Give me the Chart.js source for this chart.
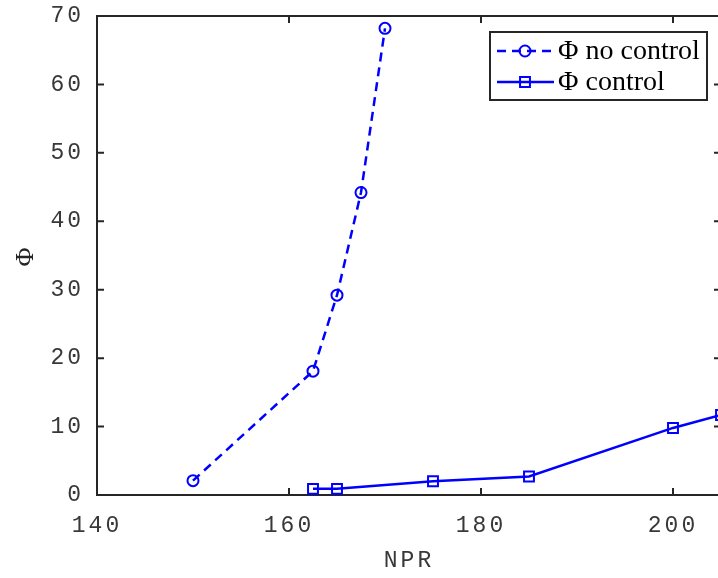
<!DOCTYPE html>
<html>
<head>
<meta charset="utf-8">
<script src="https://cdn.jsdelivr.net/npm/chart.js@4/dist/chart.umd.min.js"></script>
<style>
  html, body { margin: 0; padding: 0; overflow: hidden; background: #fff; }
  #wrap { width: 740px; height: 578px; }
</style>
</head>
<body>
<div id="wrap"><canvas id="chart" width="740" height="578"></canvas></div>
<script>
// values
const nprNoControl = [150, 162.5, 165, 167.5, 170];
const phiNoControl = [2.1, 18.1, 29.2, 44.2, 68.2];
const nprControl = [162.5, 165, 175, 185, 200, 205];
const phiControl = [0.9, 0.9, 2.0, 2.7, 9.8, 11.7];
const xTicks = [140, 160, 180, 200];
const yTicks = [0, 10, 20, 30, 40, 50, 60, 70];

const axisColor = "#262626";
const labelColor = "#383838";
const tickFont = { family: "Liberation Mono", size: 23 };
const plotRight = 721; // right axis sits just past the 718px window

function toPoints(xs, ys) {
  return xs.map((x, i) => ({ x: x, y: ys[i] }));
}

function noPadding(s) {
  s.paddingLeft = 0;
  s.paddingRight = 0;
  s.paddingTop = 0;
  s.paddingBottom = 0;
}

// MATLAB style box with inward ticks
const boxPlugin = {
  id: "box",
  beforeDraw(chart) {
    // wider letter pitch for the axis texts
    chart.ctx.letterSpacing = "3px";
  },
  beforeDatasetsDraw(chart) {
    const { ctx, chartArea: a, scales } = chart;
    ctx.letterSpacing = "0px";
    ctx.save();
    ctx.strokeStyle = axisColor;
    ctx.lineWidth = 2;
    ctx.strokeRect(a.left, a.top, a.right - a.left, a.bottom - a.top);
    const len = 7;
    ctx.beginPath();
    xTicks.forEach((v) => {
      const px = scales.x.getPixelForValue(v);
      ctx.moveTo(px, a.bottom);
      ctx.lineTo(px, a.bottom - len);
      ctx.moveTo(px, a.top);
      ctx.lineTo(px, a.top + len);
    });
    yTicks.forEach((v) => {
      const py = scales.y.getPixelForValue(v);
      ctx.moveTo(a.left, py);
      ctx.lineTo(a.left + len, py);
      ctx.moveTo(a.right, py);
      ctx.lineTo(a.right - len, py);
    });
    ctx.stroke();
    ctx.restore();
  },
};

const legendPlugin = {
  id: "boxLegend",
  afterDraw(chart) {
    const ctx = chart.ctx;
    const bx = 490, by = 32, bw = 217, bh = 68;
    ctx.save();
    ctx.letterSpacing = "0px";
    ctx.fillStyle = "#fff";
    ctx.fillRect(bx, by, bw, bh);
    ctx.strokeStyle = axisColor;
    ctx.lineWidth = 2;
    ctx.strokeRect(bx, by, bw, bh);
    const rows = [51, 82];
    chart.data.datasets.forEach((ds, i) => {
      const y = rows[i];
      ctx.strokeStyle = ds.borderColor;
      ctx.lineWidth = ds.borderWidth;
      ctx.setLineDash(ds.borderDash || []);
      ctx.beginPath();
      ctx.moveTo(497, y);
      ctx.lineTo(554, y);
      ctx.stroke();
      ctx.setLineDash([]);
      ctx.fillStyle = "rgba(0,0,0,0)";
      ctx.strokeStyle = ds.pointBorderColor;
      ctx.lineWidth = ds.pointBorderWidth;
      Chart.helpers.drawPoint(ctx, {
        pointStyle: ds.pointStyle,
        radius: ds.pointRadius,
        borderWidth: ds.pointBorderWidth,
        rotation: 0,
      }, 525, y);
      ctx.fillStyle = "#000";
      ctx.font = "28px 'Liberation Serif'";
      ctx.textBaseline = "middle";
      ctx.fillText(ds.label, 558, y + 1);
    });
    ctx.restore();
  },
};

const data = {
  datasets: [
    {
      label: "\u03A6 no control",
      data: toPoints(nprNoControl, phiNoControl),
      borderColor: "#0000ff",
      borderWidth: 2.5,
      borderDash: [9, 6],
      pointStyle: "circle",
      pointRadius: 5.5,
      pointBorderWidth: 2,
      pointBorderColor: "#0000ff",
      pointBackgroundColor: "rgba(0,0,0,0)",
      fill: false,
    },
    {
      label: "\u03A6 control",
      data: toPoints(nprControl, phiControl),
      borderColor: "#0000ff",
      borderWidth: 2.5,
      pointStyle: "rect",
      pointRadius: 7,
      pointBorderWidth: 2,
      pointBorderColor: "#0000ff",
      pointBackgroundColor: "rgba(0,0,0,0)",
      fill: false,
    },
  ],
};

const config = {
  type: "line",
  data,
  options: {
    responsive: false,
    animation: false,
    layout: { padding: { top: 16, right: 19, left: 0, bottom: 0 } },
    scales: {
      x: {
        type: "linear",
        min: 140,
        max: 205,
        afterBuildTicks: (s) => { s.ticks = xTicks.map((v) => ({ value: v })); },
        afterFit: (s) => { s.height = 83; noPadding(s); },
        grid: { display: false },
        border: { display: false },
        ticks: { font: tickFont, color: labelColor, padding: 9, maxRotation: 0 },
        title: {
          display: true,
          text: "NPR",
          font: tickFont,
          color: labelColor,
          padding: { top: 0, bottom: 3 },
        },
      },
      y: {
        min: 0,
        max: 70,
        afterBuildTicks: (s) => { s.ticks = yTicks.map((v) => ({ value: v })); },
        afterFit: (s) => { s.width = 97; noPadding(s); },
        grid: { display: false },
        border: { display: false },
        ticks: { font: tickFont, color: labelColor, padding: 5 },
        title: {
          display: true,
          text: "\u03A6",
          font: { family: "Liberation Serif", size: 26 },
          color: axisColor,
          padding: { top: 11, bottom: 0 },
        },
      },
    },
    plugins: {
      legend: { display: false },
      tooltip: { enabled: false },
    },
  },
  plugins: [boxPlugin, legendPlugin],
};

const chart = new Chart(document.getElementById("chart"), config);
const diff = chart.chartArea.right - plotRight;
if (Math.abs(diff) > 0.1) {
  chart.options.layout.padding.right += diff;
  chart.update();
}
</script>
</body>
</html>
